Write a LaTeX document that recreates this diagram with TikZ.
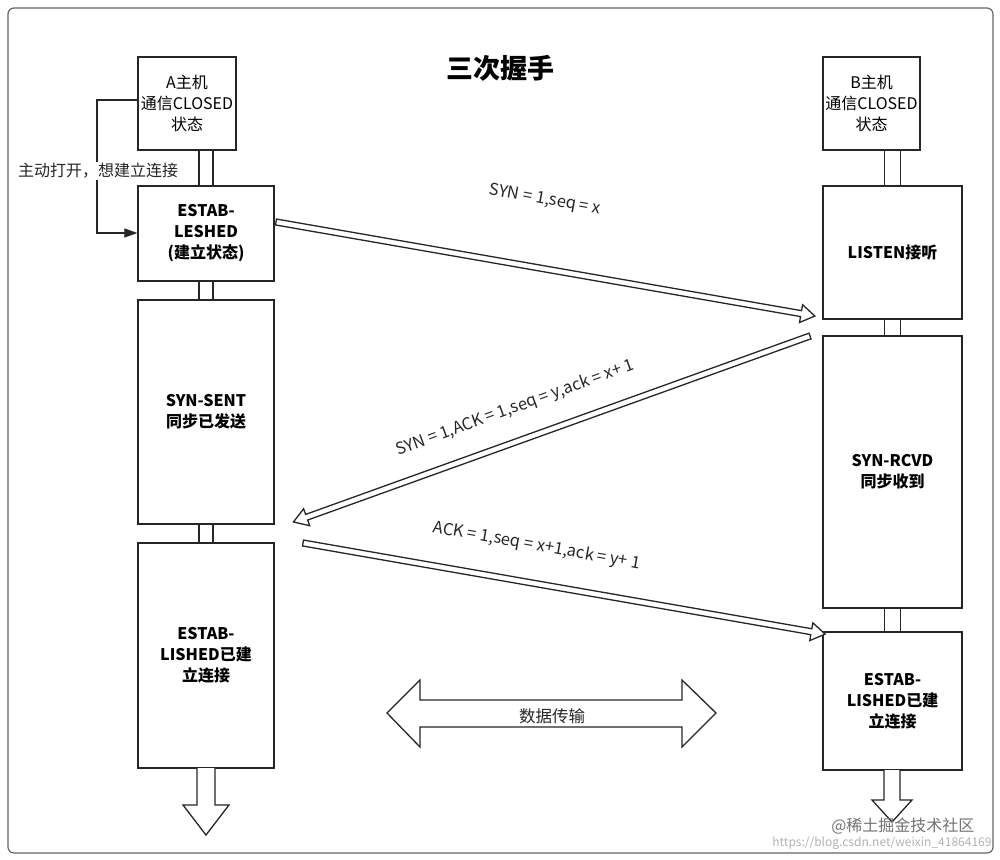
\documentclass[tikz,border=0pt]{standalone}
\usepackage{fontspec}
\setmainfont{Noto Sans CJK SC}
\usetikzlibrary{arrows.meta}
\begin{document}
\begin{tikzpicture}[x=1pt,y=-1pt,
  box/.style={draw=black!85,line width=1.3pt,align=center,inner sep=2pt,font=\fontsize{16}{21}\selectfont},
  bbox/.style={box,font=\fontsize{16}{21}\selectfont\bfseries},
  pipe/.style={draw=black!85,line width=1.2pt},
  hollow/.style={draw=black!85,line width=1.3pt,fill=white},
  lab/.style={font=\fontsize{16.5}{19}\selectfont,text=black!85}]
\useasboundingbox (0,0) rectangle (1000,859);
\draw[black!60,line width=1.2pt,rounded corners=6pt] (8,8) rectangle (993,853);
\node[font=\fontsize{27}{30}\selectfont\bfseries] (title) at (500,68) {三次握手};
% left column
\node[box,minimum width=98,minimum height=93] (a0) at (187,103.5) {A主机\\通信CLOSED\\状态};
\node[bbox,minimum width=136,minimum height=95] (a1) at (206,233.5) {ESTAB-\\LESHED\\(建立状态)};
\node[bbox,minimum width=136,minimum height=224] (a2) at (206,412) {SYN-SENT\\同步已发送};
\node[bbox,minimum width=136,minimum height=225] (a3) at (206,655.5) {ESTAB-\\LISHED已建\\立连接};
\foreach \u/\v in {a0/a1,a1/a2,a2/a3}{
  \draw[pipe] ([xshift=-7]\u.south -| a1.north) -- ([xshift=-7]\v.north);
  \draw[pipe] ([xshift=7]\u.south -| a1.north) -- ([xshift=7]\v.north);}
\draw[hollow] (197,768)--(197,805)--(183,805)--(206,835)--(229,805)--(215,805)--(215,768);
% right column
\node[box,minimum width=97,minimum height=93] (b0) at (871.5,103.5) {B主机\\通信CLOSED\\状态};
\node[bbox,minimum width=139,minimum height=133] (b1) at (892.5,252.5) {LISTEN接听};
\node[bbox,minimum width=139,minimum height=272] (b2) at (892.5,472) {SYN-RCVD\\同步收到};
\node[bbox,minimum width=139,minimum height=138] (b3) at (892.5,701) {ESTAB-\\LISHED已建\\立连接};
\foreach \u/\v in {b0/b1,b1/b2,b2/b3}{
  \draw[pipe] ([xshift=-8]\u.south -| b1.north) -- ([xshift=-8]\v.north);
  \draw[pipe] ([xshift=8]\u.south -| b1.north) -- ([xshift=8]\v.north);}
\draw[hollow] (884,770)--(884,800)--(872,800)--(892,822)--(912,800)--(900,800)--(900,770);
% feedback
\coordinate (f1) at (97,100);
\coordinate (f2) at (97,233);
\draw[black!85,line width=1.2pt,-{Triangle[length=13pt,width=9pt]}] (a0.west |- f1) -- (f1) -- (f2) -- (a1.west |- f2);
\node[lab,fill=white,inner sep=1pt,font=\fontsize{16}{19}\selectfont] (fl) at (98,171) {主动打开，想建立连接};
% hollow message arrows
\begin{scope}[shift={(276,222)},rotate=-9.9]
\draw[hollow] (0,3)--(533,3)--(533,9)--(547,0)--(533,-9)--(533,-3)--(0,-3)--cycle;
\end{scope}
\begin{scope}[shift={(810,336)},rotate=199.8]
\draw[hollow] (0,3)--(535,3)--(535,9)--(549,0)--(535,-9)--(535,-3)--(0,-3)--cycle;
\end{scope}
\begin{scope}[shift={(303,543)},rotate=-9.9]
\draw[hollow] (0,3)--(516,3)--(516,9)--(530,0)--(516,-9)--(516,-3)--(0,-3)--cycle;
\end{scope}
\node[lab,rotate=-10] (m1) at (545,200) {SYN = 1,seq = x};
\node[lab,rotate=20] (m2) at (515,408) {SYN = 1,ACK = 1,seq = y,ack = x+ 1};
\node[lab,rotate=-10] (m3) at (537,546) {ACK = 1,seq = x+1,ack = y+ 1};
% data transfer
\draw[hollow] (387,713)--(420,680)--(420,700)--(682,700)--(682,680)--(716,713)--(682,747)--(682,727)--(420,727)--(420,747)--cycle;
\node[lab] (dt) at (552,716) {数据传输};
% watermark
\node[font=\fontsize{16}{18}\selectfont,text=black!55,anchor=east] (w1) at (978,826) {@稀土掘金技术社区};
\node[font=\fontsize{12}{14}\selectfont,text=black!30,anchor=east] (w2) at (995,843) {https://blog.csdn.net/weixin\_41864169};
\end{tikzpicture}
\end{document}
